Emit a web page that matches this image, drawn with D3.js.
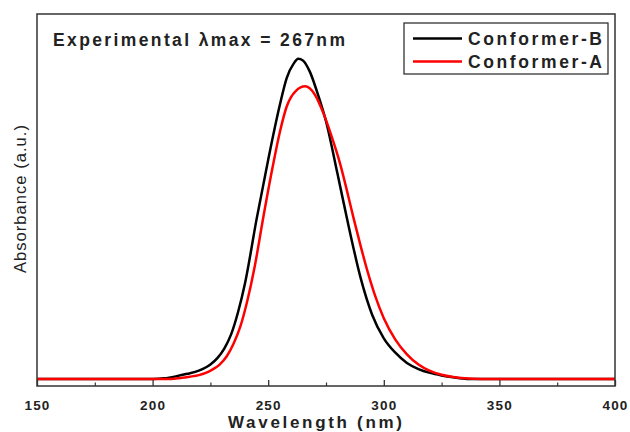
<!DOCTYPE html>
<html><head><meta charset="utf-8">
<script src="https://cdn.jsdelivr.net/npm/d3@7/dist/d3.min.js"></script>
<style>
html,body{margin:0;padding:0;background:#fff;}
svg{display:block;font-family:"Liberation Sans",Arial,sans-serif;}
</style></head>
<body><svg id="c" width="630" height="432"></svg>
<script>
// Data
const wavelengthB = [150,200,205,210,215,220,225,228,231,234,237,240,245,250,255,258,261,263,265,268,271,275,280,285,290,295,300,305,310,315,320,325,330,336,400];
const conformerB  = [0,0,0.002,0.008,0.016,0.026,0.045,0.065,0.095,0.14,0.21,0.3,0.5,0.685,0.855,0.94,0.985,1.0,0.995,0.96,0.9,0.805,0.64,0.47,0.315,0.2,0.127,0.082,0.05,0.031,0.019,0.011,0.005,0,0];
const wavelengthA = [150,208,212,216,220,223,226,229,232,235,238,241,244,248,252,255,258,262,266,270,274,278,281,284,287,290,293,296,300,305,310,315,320,325,330,335,342,400];
const conformerA  = [0,0,0.003,0.007,0.012,0.019,0.03,0.045,0.07,0.11,0.165,0.245,0.345,0.51,0.665,0.77,0.851,0.9,0.914,0.89,0.828,0.745,0.675,0.59,0.5,0.415,0.335,0.265,0.19,0.123,0.077,0.045,0.025,0.013,0.006,0.002,0,0];
const xTicks = [150,200,250,300,350,400];
const xMinor = [175,225,275,325,375];
const seriesNames = ["Conformer-B","Conformer-A"];
const seriesColors = ["#000000","#ff0000"];

const L=37,R=615,T=14,B=386;
const svg=d3.select("#c");
const x=d3.scaleLinear().domain([150,400]).range([L,R]);
const y=d3.scaleLinear().domain([-0.022,1.14]).range([B,T]);

// curves
const line=d3.line().x(d=>x(d[0])).y(d=>y(d[1])).curve(d3.curveMonotoneX);
const dataA=wavelengthA.map((w,i)=>[w,conformerA[i]]);
const dataB=wavelengthB.map((w,i)=>[w,conformerB[i]]);
svg.append("path").datum(dataB).attr("d",line).attr("fill","none").attr("stroke",seriesColors[0]).attr("stroke-width",2.5);
svg.append("path").datum(dataA).attr("d",line).attr("fill","none").attr("stroke",seriesColors[1]).attr("stroke-width",2.5);

// frame
svg.append("rect").attr("x",L).attr("y",T).attr("width",R-L).attr("height",B-T)
  .attr("fill","none").attr("stroke","#333").attr("stroke-width",1.5);

// x axis ticks (inward)
const ax=svg.append("g").attr("transform",`translate(0,${B})`)
  .call(d3.axisBottom(x).tickValues(xTicks).tickSize(-6).tickPadding(14).tickFormat(d3.format("d")));
ax.select(".domain").remove();
ax.selectAll(".tick line").attr("stroke","#333").attr("stroke-width",1.3);
ax.selectAll(".tick text").attr("font-size",13.5).attr("font-weight","bold").attr("fill","#222")
  .attr("font-family","'Liberation Sans',Arial,sans-serif").attr("letter-spacing","1.2px");
const axm=svg.append("g").attr("transform",`translate(0,${B})`)
  .call(d3.axisBottom(x).tickValues(xMinor).tickSize(-3.5).tickFormat(""));
axm.select(".domain").remove();
axm.selectAll(".tick line").attr("stroke","#333").attr("stroke-width",1.2);

// axis labels
svg.append("text").attr("x",315).attr("y",428).attr("text-anchor","middle")
  .attr("font-size",17).attr("font-weight","bold").attr("fill","#222")
  .attr("textLength",174).attr("lengthAdjust","spacing").text("Wavelength (nm)");
svg.append("text").attr("transform","translate(26,199) rotate(-90)").attr("text-anchor","middle")
  .attr("font-size",16.5).attr("fill","#222")
  .attr("textLength",148).attr("lengthAdjust","spacing").text("Absorbance (a.u.)");

// annotation
svg.append("text").attr("x",53).attr("y",46).attr("font-size",17.5).attr("font-weight","bold").attr("fill","#222")
  .attr("textLength",292).attr("lengthAdjust","spacing").text("Experimental λmax = 267nm");

// legend
svg.append("rect").attr("x",404).attr("y",23).attr("width",204).attr("height",51)
  .attr("fill","#fff").attr("stroke","#222").attr("stroke-width",1.2);
const legY=[38.5,61.5];
seriesNames.forEach((n,i)=>{
  svg.append("line").attr("x1",413).attr("x2",462).attr("y1",legY[i]).attr("y2",legY[i])
    .attr("stroke",seriesColors[i]).attr("stroke-width",2.5);
  svg.append("text").attr("x",468).attr("y",legY[i]+6).attr("font-size",17.5).attr("font-weight","bold").attr("fill","#222")
    .attr("textLength",134).attr("lengthAdjust","spacing").text(n);
});
</script></body></html>
